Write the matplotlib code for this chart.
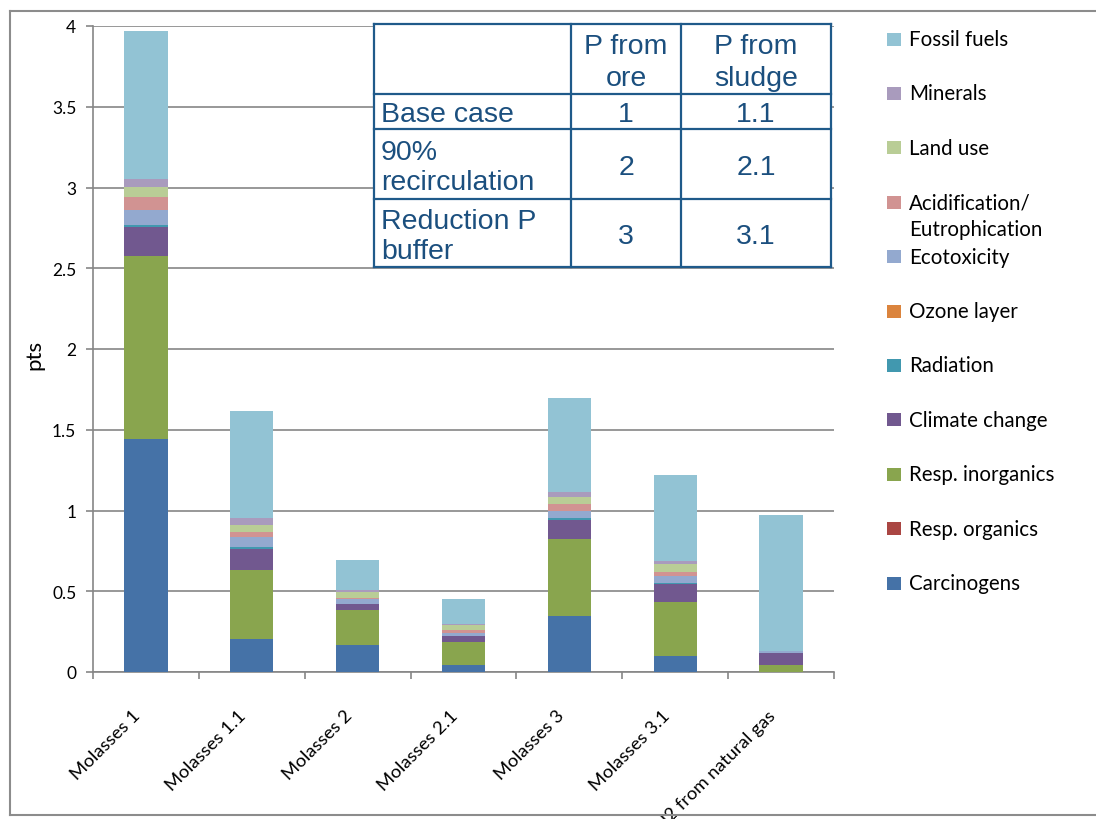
import matplotlib
matplotlib.use("Agg")
import matplotlib.pyplot as plt
import matplotlib.transforms as mtransforms
from matplotlib.patches import Rectangle
from matplotlib.lines import Line2D
import numpy as np

W, H = 1096, 820

plt.rcParams["font.family"] = ["Lato", "DejaVu Sans"]

scenarios = ["Molasses 1", "Molasses 1.1", "Molasses 2", "Molasses 2.1",
             "Molasses 3", "Molasses 3.1", "H2 from natural gas"]

# impact scores per category (pts), stacked bottom -> top
carcinogens = [1.440, 0.204, 0.167, 0.043, 0.346, 0.099, 0.002]
resp_organics = [0.005, 0.002, 0.001, 0.001, 0.002, 0.001, 0.000]
resp_inorganics = [1.130, 0.425, 0.215, 0.141, 0.474, 0.333, 0.041]
climate_change = [0.183, 0.129, 0.037, 0.038, 0.118, 0.111, 0.074]
radiation = [0.009, 0.013, 0.003, 0.002, 0.012, 0.004, 0.001]
ozone_layer = [0.001, 0.001, 0.0005, 0.0005, 0.001, 0.0005, 0.000]
ecotoxicity = [0.094, 0.062, 0.030, 0.016, 0.041, 0.047, 0.012]
acidification = [0.079, 0.031, 0.006, 0.019, 0.046, 0.025, 0.000]
land_use = [0.061, 0.043, 0.038, 0.031, 0.043, 0.050, 0.000]
minerals = [0.050, 0.043, 0.012, 0.006, 0.033, 0.018, 0.001]
fossil_fuels = [0.918, 0.662, 0.185, 0.154, 0.579, 0.530, 0.840]

series = [carcinogens, resp_organics, resp_inorganics, climate_change, radiation,
          ozone_layer, ecotoxicity, acidification, land_use, minerals, fossil_fuels]
labels = ["Carcinogens", "Resp. organics", "Resp. inorganics", "Climate change",
          "Radiation", "Ozone layer", "Ecotoxicity", "Acidification/\nEutrophication",
          "Land use", "Minerals", "Fossil fuels"]
colors = ["#4572A7", "#AA4643", "#89A54E", "#71588F", "#4198AF", "#DB843D",
          "#93A9CF", "#D19392", "#B9CD96", "#A99BBD", "#92C3D4"]

yticks = [0, 0.5, 1, 1.5, 2, 2.5, 3, 3.5, 4]
ytick_labels = ["0", "0.5", "1", "1.5", "2", "2.5", "3", "3.5", "4"]

table_header = ["", "P from\nore", "P from\nsludge"]
table_rows = [["Base case", "1", "1.1"],
              ["90%\nrecirculation", "2", "2.1"],
              ["Reduction P\nbuffer", "3", "3.1"]]

GRAY = "#868686"
TABLE_TXT = "#1B4F7E"
TABLE_LINE = "#1F5A8A"


def fx(x):
    return x / W


def fy(y):
    return 1 - y / H


fig = plt.figure(figsize=(W / 100, H / 100), dpi=100)
fig.patch.set_facecolor("white")

ax = fig.add_axes([fx(93), fy(673), (834 - 93) / W, (673 - 27) / H])
x = np.arange(len(scenarios))
bottom = np.zeros(len(scenarios))
for vals, col in zip(series, colors):
    vals = np.asarray(vals)
    ax.bar(x, vals, 0.41, bottom=bottom, color=col, zorder=3, linewidth=0)
    bottom += vals

ax.set_xlim(-0.5, len(scenarios) - 0.5)
ax.set_ylim(0, 4)
ax.set_yticks(yticks, ytick_labels)
ax.yaxis.grid(True, color=GRAY, linewidth=1.2)
ax.set_axisbelow(True)

for side in ("top", "right"):
    ax.spines[side].set_visible(False)
for side in ("left", "bottom"):
    ax.spines[side].set_color(GRAY)
    ax.spines[side].set_linewidth(1.2)

ax.tick_params(axis="y", length=5, width=1.2, color=GRAY, pad=7, labelsize=12.5)

ax.set_xticks(x, scenarios, rotation=45, ha="right", va="center",
              rotation_mode="anchor", fontsize=13.3)
ax.set_xticks(np.arange(-0.5, len(scenarios)), minor=True)
ax.tick_params(axis="x", which="major", length=0, pad=29)
ax.tick_params(axis="x", which="minor", length=5, width=1.2, color=GRAY)
shift = mtransforms.ScaledTranslation(-0.08, 0, fig.dpi_scale_trans)
for lab in ax.get_xticklabels():
    lab.set_transform(lab.get_transform() + shift)

fig.text(fx(34), fy(355), "pts", rotation=90, ha="center", va="center", fontsize=16)

# legend, top entry first
for i, (lab, col) in enumerate(zip(labels[::-1], colors[::-1])):
    yc = 40 + 54.4 * i
    fig.add_artist(Rectangle((fx(887), fy(yc + 6.5)), 14 / W, 13 / H,
                             transform=fig.transFigure, facecolor=col, edgecolor="none"))
    # wrapped labels continue on the line below
    for k, part in enumerate(lab.split("\n")):
        fig.text(fx(909), fy(yc + 27 * k), part, ha="left", va="center",
                 fontsize=14.8, color="#000000")

# scenario key table
col_edges = [374, 571, 681, 831]
row_edges = [25, 95, 130, 200, 268]
fig.add_artist(Rectangle((fx(col_edges[0]), fy(row_edges[-1])),
                         (col_edges[-1] - col_edges[0]) / W,
                         (row_edges[-1] - row_edges[0]) / H,
                         transform=fig.transFigure, facecolor="white", edgecolor="none"))
for cx in col_edges:
    fig.add_artist(Line2D([fx(cx), fx(cx)], [fy(row_edges[0]), fy(row_edges[-1])],
                          transform=fig.transFigure, color=TABLE_LINE, lw=1.6))
for ry in row_edges:
    fig.add_artist(Line2D([fx(col_edges[0]), fx(col_edges[-1])], [fy(ry), fy(ry)],
                          transform=fig.transFigure, color=TABLE_LINE, lw=1.6))

for r, row in enumerate([table_header] + table_rows):
    yc = (row_edges[r] + row_edges[r + 1]) / 2 + 3
    for c, txt in enumerate(row):
        if not txt:
            continue
        if c == 0:
            fig.text(fx(col_edges[0] + 7), fy(yc), txt, ha="left", va="center",
                     fontsize=20.5, family="Liberation Sans", color=TABLE_TXT,
                     linespacing=1.2)
        else:
            cxm = (col_edges[c] + col_edges[c + 1]) / 2
            fig.text(fx(cxm), fy(yc), txt, ha="center", va="center", fontsize=20.5,
                     family="Liberation Sans", color=TABLE_TXT, linespacing=1.25)

# outer chart frame
for xs, ys in (([10, 10], [12, 816]), ([10, W], [12, 12]), ([10, W], [816, 816])):
    fig.add_artist(Line2D([fx(v) for v in xs], [fy(v) for v in ys],
                          transform=fig.transFigure, color="#8C8C8C", lw=1.5))

fig.savefig("out.png", dpi=100)
